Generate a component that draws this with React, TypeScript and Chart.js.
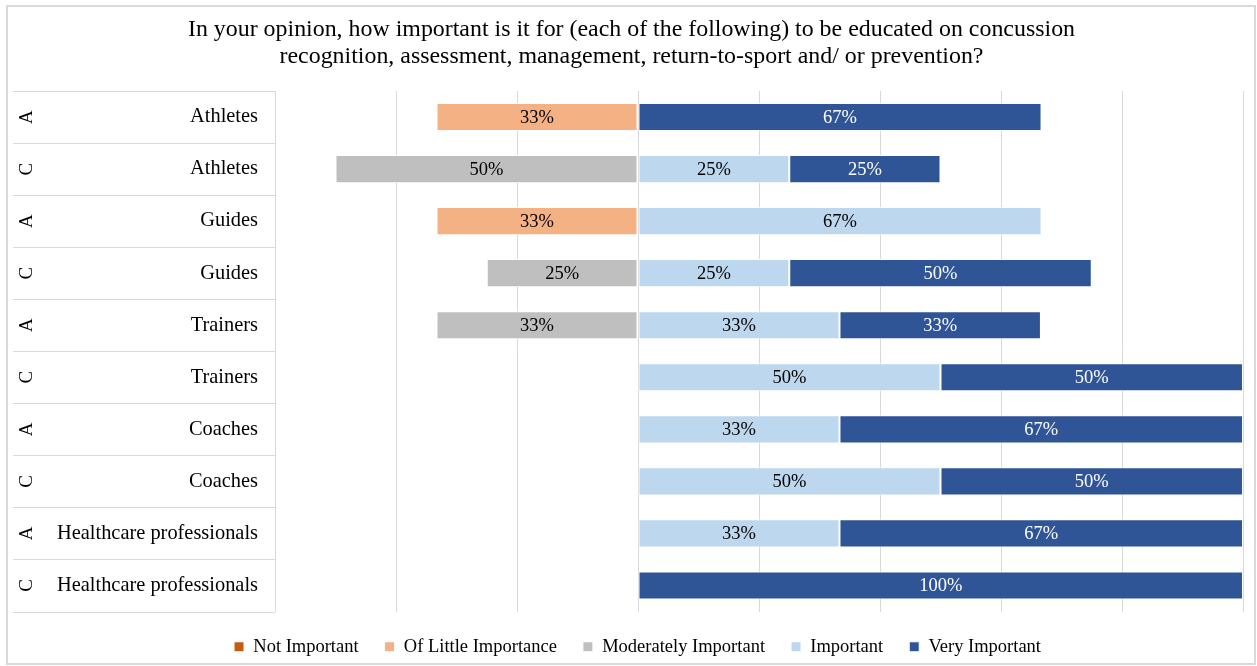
import React, { useEffect, useRef } from "react";
import { Chart, registerables } from "chart.js";

Chart.register(...registerables);

const groups = ["A", "C", "A", "C", "A", "C", "A", "C", "A", "C"];
const categories = [
  "Athletes", "Athletes", "Guides", "Guides", "Trainers",
  "Trainers", "Coaches", "Coaches", "Healthcare professionals", "Healthcare professionals",
];
const seriesNames = ["Not Important", "Of Little Importance", "Moderately Important", "Important", "Very Important"];
const seriesColors = ["#C55A11", "#F4B183", "#BFBFBF", "#BDD7EE", "#2F5597"];
const labelColors = ["#FFFFFF", "#000000", "#000000", "#000000", "#FFFFFF"];
// negative values = left of centre
const notImportant: (number | null)[] = [null, null, null, null, null, null, null, null, null, null];
const littleImportance: (number | null)[] = [-33.3, null, -33.3, null, null, null, null, null, null, null];
const moderatelyImportant: (number | null)[] = [null, -50, null, -25, -33.3, null, null, null, null, null];
const important: (number | null)[] = [null, 25, 66.7, 25, 33.3, 50, 33.3, 50, 33.3, null];
const veryImportant: (number | null)[] = [66.7, 25, null, 50, 33.3, 50, 66.7, 50, 66.7, 100];
const titleLines = [
  "In your opinion, how important is it for (each of the following) to be educated on concussion",
  "recognition, assessment, management, return-to-sport and/ or prevention?",
];
const xMin = -60;
const xMax = 100;
const xStep = 20;

const FONT = "'Liberation Serif', 'Times New Roman', serif";
const LINE = "#D9D9D9";

const decorPlugin = {
  id: "decor",
  afterLayout(chart: any) {
    const lg = chart.legend;
    if (lg) {
      lg.left += 16;
      lg.right += 16;
    }
    const tb = chart.titleBlock;
    if (tb) {
      tb.left += 10;
      tb.right += 10;
    }
  },
  beforeDraw(chart: any) {
    const ctx = chart.ctx;
    ctx.save();
    ctx.fillStyle = "#FFFFFF";
    ctx.fillRect(0, 0, chart.width, chart.height);
    ctx.strokeStyle = LINE;
    ctx.lineWidth = 2;
    ctx.strokeRect(7, 6, chart.width - 9, chart.height - 8);
    ctx.restore();
  },
  afterDraw(chart: any) {
    const ctx = chart.ctx;
    const y = chart.scales.y;
    const area = chart.chartArea;
    const n = categories.length;
    const rowH = (area.bottom - area.top) / n;
    ctx.save();
    ctx.strokeStyle = LINE;
    ctx.lineWidth = 1;
    for (let i = 0; i <= n; i++) {
      const yy = Math.round(area.top + i * rowH) + 0.5;
      ctx.beginPath();
      ctx.moveTo(13, yy);
      ctx.lineTo(area.left, yy);
      ctx.stroke();
    }
    ctx.fillStyle = "#000000";
    ctx.font = `19px ${FONT}`;
    ctx.textAlign = "center";
    ctx.textBaseline = "middle";
    for (let i = 0; i < n; i++) {
      const cy = y.getPixelForValue(i);
      ctx.save();
      ctx.translate(27, cy);
      ctx.rotate(-Math.PI / 2);
      ctx.fillText(groups[i], 0, 0);
      ctx.restore();
    }
    ctx.restore();
  },
  afterDatasetsDraw(chart: any) {
    const ctx = chart.ctx;
    ctx.save();
    ctx.font = `18.5px ${FONT}`;
    ctx.textAlign = "center";
    ctx.textBaseline = "middle";
    chart.data.datasets.forEach((ds: any, di: number) => {
      const meta = chart.getDatasetMeta(di);
      meta.data.forEach((el: any, i: number) => {
        const v = ds.data[i];
        if (v === null || v === undefined) return;
        const { x, base, y } = el.getProps(["x", "base", "y"], true);
        ctx.fillStyle = labelColors[di];
        ctx.fillText(`${Math.round(Math.abs(v))}%`, (x + base) / 2, y + 1);
      });
    });
    ctx.restore();
  },
};

export default function App() {
  const ref = useRef<HTMLCanvasElement | null>(null);
  useEffect(() => {
    if (!ref.current) return;
    const seriesData = [notImportant, littleImportance, moderatelyImportant, important, veryImportant];
    const chart = new Chart(ref.current, {
      type: "bar",
      data: {
        labels: categories,
        datasets: seriesNames.map((name, i) => ({
          label: name,
          data: seriesData[i],
          backgroundColor: seriesColors[i],
          borderColor: "#FFFFFF",
          borderWidth: 1,
          borderSkipped: false,
          categoryPercentage: 1,
          barPercentage: 0.54,
        })),
      },
      options: {
        indexAxis: "y",
        responsive: false,
        animation: false,
        layout: { padding: { top: 0, left: 0, right: 14, bottom: 0 } },
        scales: {
          x: {
            stacked: true,
            min: xMin,
            max: xMax,
            ticks: { display: false, stepSize: xStep },
            grid: { color: LINE, drawTicks: false },
            border: { display: false },
          },
          y: {
            stacked: true,
            grid: { display: false, drawTicks: false },
            border: { display: true, color: LINE },
            ticks: { color: "#000000", font: { family: FONT, size: 20.4 }, padding: 17 },
            afterFit: (scale: any) => {
              scale.width = 275;
            },
          },
        },
        plugins: {
          title: {
            display: true,
            text: titleLines,
            color: "#000000",
            font: { family: FONT, size: 23.9, weight: "normal", lineHeight: 27 / 23.9 },
            padding: { top: 16.5, bottom: 20.5 },
          },
          legend: {
            position: "bottom",
            labels: {
              color: "#000000",
              font: { family: FONT, size: 18.5 },
              boxWidth: 10,
              boxHeight: 10,
              padding: 26,
            },
          },
          tooltip: { enabled: false },
        },
      },
      plugins: [decorPlugin],
    });
    return () => chart.destroy();
  }, []);
  return (
    <div style={{ position: "absolute", left: 0, top: 0, width: 1257, height: 666 }}>
      <canvas ref={ref} width={1257} height={666} style={{ display: "block" }} />
    </div>
  );
}
